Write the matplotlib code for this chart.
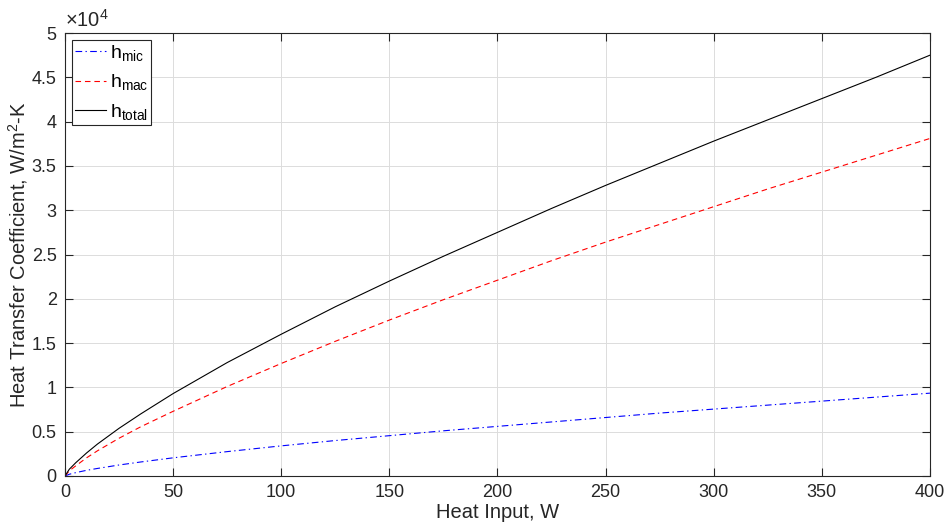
import matplotlib
matplotlib.use("Agg")
import matplotlib.pyplot as plt
from matplotlib.ticker import FuncFormatter

plt.rcParams['font.family'] = ['Liberation Sans', 'DejaVu Sans']
plt.rcParams['mathtext.fontset'] = 'custom'
plt.rcParams['mathtext.rm'] = 'Liberation Sans'
plt.rcParams['mathtext.it'] = 'Liberation Sans'

# heat input, W
heat_input = [0, 2, 5, 10, 15, 25, 35, 50, 75, 100, 125, 150, 175, 200, 225,
              250, 275, 300, 325, 350, 375, 400]
# heat transfer coefficients, W/m^2-K
h_mic = [0, 195, 380, 640, 850, 1240, 1580, 2050, 2750, 3400, 4000, 4550, 5100,
         5600, 6100, 6600, 7100, 7550, 8000, 8450, 8900, 9350]
h_mac = [0, 580, 1150, 2050, 2840, 4260, 5550, 7300, 10100, 12700, 15200, 17600,
         19900, 22100, 24300, 26400, 28400, 30400, 32400, 34300, 36200, 38100]
h_total = [0, 760, 1500, 2600, 3600, 5380, 7000, 9300, 12800, 16000, 19100,
           22000, 24800, 27500, 30200, 32800, 35300, 37800, 40200, 42600, 45000,
           47500]

txt = '#262626'

fig = plt.figure(figsize=(9.47, 5.27), dpi=100)
ax = fig.add_axes([0.0686, 0.0968, 0.9134, 0.8405])

ax.plot(heat_input, h_mic, color='blue', ls=(0, (6, 3, 1.2, 3)), lw=0.8,
        label=r'h$_{\rm mic}$')
ax.plot(heat_input, h_mac, color='red', ls=(0, (5, 3.5)), lw=0.8,
        label=r'h$_{\rm mac}$')
ax.plot(heat_input, h_total, color='black', ls='-', lw=0.8,
        label=r'h$_{\rm total}$')

ax.set_xlim(0, 400)
ax.set_ylim(0, 50000)
ax.set_xticks(range(0, 401, 50))
ax.set_yticks(range(0, 50001, 5000))
ax.yaxis.set_major_formatter(FuncFormatter(lambda v, p: f'{v / 1e4:g}'))
ax.text(0, 1.006, r'$\times10^4$', transform=ax.transAxes, fontsize=14.5,
        color=txt, ha='left', va='bottom')

ax.grid(True, color='#dcdcdc', lw=0.7)
ax.set_axisbelow(True)
ax.tick_params(direction='in', top=True, right=True, labelsize=13, colors=txt,
               length=6, width=0.8, pad=6)
for s in ax.spines.values():
    s.set_color(txt)
    s.set_linewidth(0.8)

ax.set_xlabel('Heat Input, W', fontsize=14.5, color=txt, labelpad=1)
ax.set_ylabel(r'Heat Transfer Coefficient, W/m$^2$-K', fontsize=14.5,
              color=txt, labelpad=1)

leg = ax.legend(loc='upper left', fontsize=14, fancybox=False, framealpha=1,
                edgecolor=txt, handlelength=1.6, handletextpad=0.2,
                borderaxespad=0.35, borderpad=0.15, labelspacing=0.5)
leg.get_frame().set_linewidth(0.8)

fig.savefig('out.png', dpi=100)
